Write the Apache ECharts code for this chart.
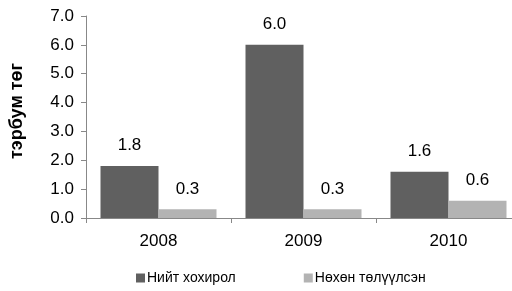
<!DOCTYPE html>
<html>
<head>
<meta charset="utf-8">
<script src="https://cdn.jsdelivr.net/npm/echarts@6/dist/echarts.min.js"></script>
<style>
    html, body { margin: 0; padding: 0; background: #fff; }
    #chart { width: 512px; height: 291px; }
</style>
</head>
<body>
<div id="chart"></div>
<script>
const years = ['2008', '2009', '2010'];
const totalLoss = [1.8, 6.0, 1.6];      // Нийт хохирол
const recovered = [0.3, 0.3, 0.6];      // Нөхөн төлүүлсэн
const seriesNames = ['Нийт хохирол', 'Нөхөн төлүүлсэн'];

const chart = echarts.init(document.getElementById('chart'));

const labelStyle = {
    show: true,
    position: 'top',
    distance: 12,
    color: '#000',
    fontSize: 17,
    fontFamily: 'Liberation Sans',
    formatter: p => p.value.toFixed(1)
};

const option = {
    animation: false,
    textStyle: { fontFamily: 'Liberation Sans' },
    legend: {
        bottom: 1,
        left: 131,
        itemGap: 68,
        itemWidth: 9,
        itemHeight: 9,
        icon: 'rect',
        textStyle: { fontSize: 14, color: '#000', padding: [0, 0, 0, -3] },
        data: seriesNames
    },
    grid: {
        left: 86,
        width: 435,   // last category runs past the edge in the reference
        top: 16,
        bottom: 73,
        outerBoundsMode: 'none'
    },
    xAxis: {
        type: 'category',
        data: years,
        axisLine: { lineStyle: { color: '#888' } },
        axisTick: { show: true, length: 5, lineStyle: { color: '#888' } },
        axisLabel: { color: '#000', fontSize: 17, margin: 15 }
    },
    yAxis: {
        type: 'value',
        min: 0,
        max: 7,
        interval: 1,
        name: 'тэрбум төг',
        nameLocation: 'middle',
        nameGap: 60,
        nameTextStyle: { fontSize: 18, fontWeight: 'bold', color: '#000', padding: [0, 0, 0, 12] },
        axisLine: { show: true, lineStyle: { color: '#888' } },
        axisTick: { show: true, length: 5, lineStyle: { color: '#888' } },
        axisLabel: { color: '#000', fontSize: 17, margin: 12, formatter: v => v.toFixed(1) },
        splitLine: { show: false }
    },
    series: [
        {
            name: seriesNames[0],
            type: 'bar',
            data: totalLoss,
            barGap: '0%',
            barCategoryGap: '20%',
            itemStyle: { color: '#606060' },
            label: labelStyle
        },
        {
            name: seriesNames[1],
            type: 'bar',
            data: recovered,
            itemStyle: { color: '#b3b3b3' },
            label: labelStyle
        }
    ]
};

chart.setOption(option);
</script>
</body>
</html>
